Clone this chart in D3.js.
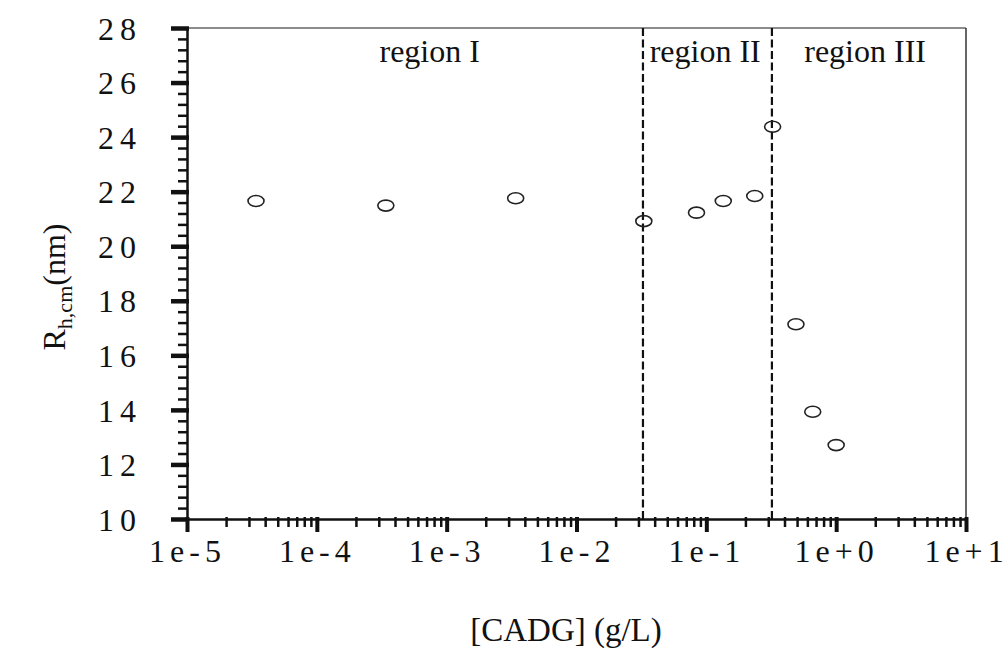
<!DOCTYPE html>
<html>
<head>
<meta charset="utf-8">
<script src="https://cdn.jsdelivr.net/npm/d3@7"></script>
<style>
  body { margin: 0; background: #fff; }
  text { font-family: "Liberation Serif", "DejaVu Serif", serif; fill: #111; }
</style>
</head>
<body>
<svg id="chart" width="1008" height="656"></svg>
<script>
/* Data */
var conc = [3.4e-5, 3.4e-4, 3.4e-3, 0.033, 0.084, 0.135, 0.236, 0.324, 0.49, 0.66, 1.0];
var rh   = [21.66, 21.49, 21.76, 20.92, 21.23, 21.66, 21.84, 24.38, 17.14, 13.93, 12.71];

var regionBounds = [0.0325, 0.32];
var regionNames = ['region I', 'region II', 'region III'];
var regionCenters = [7.4e-4, 0.098, 1.67];

var xTicks = [1e-5, 1e-4, 1e-3, 1e-2, 1e-1, 1, 10];
var xTickLabels = ['1e-5', '1e-4', '1e-3', '1e-2', '1e-1', '1e+0', '1e+1'];
var yTicks = [10, 12, 14, 16, 18, 20, 22, 24, 26, 28];

var serif = '"Liberation Serif", "DejaVu Serif", serif';
var svg = d3.select('#chart');

/* Scales */
var xScale = d3.scaleLog()
  .domain([1e-5, 10])
  .range([187, 966]);

var yScale = d3.scaleLinear()
  .domain([10, 28])
  .range([519, 28]);

/* minor ticks */
var xMinor = [];
for (let e = -5; e < 1; e++) {
  for (let k = 2; k <= 9; k++) {
    xMinor.push(k * Math.pow(10, e));
  }
}
var yMinor = d3.range(10, 28.01, 0.4).filter(function (v) {
  return Math.abs(v / 2 - Math.round(v / 2)) > 0.01;
});

/* Frame (top and right) */
svg.append('line')
  .attr('x1', xScale(1e-5)).attr('x2', xScale(10))
  .attr('y1', yScale(28)).attr('y2', yScale(28))
  .attr('stroke', '#666').attr('stroke-width', 1.5);
svg.append('line')
  .attr('x1', xScale(10)).attr('x2', xScale(10))
  .attr('y1', yScale(28)).attr('y2', yScale(10))
  .attr('stroke', '#333').attr('stroke-width', 1.5);

/* Region boundaries */
svg.selectAll('line.bound')
  .data(regionBounds)
  .join('line')
  .classed('bound', true)
  .attr('x1', function (d) { return xScale(d); })
  .attr('x2', function (d) { return xScale(d); })
  .attr('y1', yScale(28))
  .attr('y2', yScale(10))
  .attr('stroke', '#111')
  .attr('stroke-width', 2.2)
  .attr('stroke-dasharray', '8,3.5');

/* Region labels */
svg.selectAll('text.region')
  .data(regionNames)
  .join('text')
  .classed('region', true)
  .attr('x', function (d, i) { return xScale(regionCenters[i]); })
  .attr('y', 62)
  .attr('text-anchor', 'middle')
  .style('font-size', '32px')
  .text(function (d) { return d; });

/* Axes */
var yAxisMinor = d3.axisLeft(yScale).tickValues(yMinor).tickSize(9).tickFormat('');
var yAxisMajor = d3.axisLeft(yScale).tickValues(yTicks).tickSize(16)
  .tickFormat(function (d) { return String(d); });
var xAxisMinor = d3.axisBottom(xScale).tickValues(xMinor).tickSize(8).tickFormat('');
var xAxisMajor = d3.axisBottom(xScale).tickValues(xTicks).tickSize(13)
  .tickFormat(function (d, i) { return xTickLabels[i]; });

var gyMinor = svg.append('g').attr('transform', 'translate(187,0)').call(yAxisMinor);
var gyMajor = svg.append('g').attr('transform', 'translate(187,0)').call(yAxisMajor);
var gxMinor = svg.append('g').attr('transform', 'translate(0,519)').call(xAxisMinor);
var gxMajor = svg.append('g').attr('transform', 'translate(0,519)').call(xAxisMajor);

[gyMinor, gyMajor, gxMinor, gxMajor].forEach(function (g) {
  g.attr('font-family', serif);
  g.select('.domain').attr('stroke', '#111').attr('stroke-width', 2);
  g.selectAll('.tick line').attr('stroke', '#111');
});
gyMinor.selectAll('.tick line').attr('stroke-width', 2.5).attr('x1', 1);
gyMajor.selectAll('.tick line').attr('stroke-width', 4.5).attr('x1', 2);
gxMinor.selectAll('.tick line').attr('stroke-width', 2.5).attr('y1', -2);
gxMajor.selectAll('.tick line').attr('stroke-width', 4).attr('y1', -2);

gyMajor.selectAll('.tick text')
  .attr('x', -45)
  .attr('dy', '0.35em')
  .style('font-family', serif)
  .style('font-size', '32px')
  .style('letter-spacing', '6px')
  .attr('fill', '#111');

gxMajor.selectAll('.tick text')
  .attr('y', 32)
  .attr('dy', '0.35em')
  .style('font-family', serif)
  .style('font-size', '32px')
  .style('letter-spacing', '5px')
  .attr('fill', '#111');

/* Points */
svg.selectAll('ellipse.pt')
  .data(conc)
  .join('ellipse')
  .classed('pt', true)
  .attr('cx', function (d) { return xScale(d); })
  .attr('cy', function (d, i) { return yScale(rh[i]); })
  .attr('rx', 8)
  .attr('ry', 5.5)
  .attr('fill', 'none')
  .attr('stroke', '#222')
  .attr('stroke-width', 1.6);

/* Axis titles */
svg.append('text')
  .attr('x', 566)
  .attr('y', 641)
  .attr('text-anchor', 'middle')
  .style('font-size', '33px')
  .text('[CADG] (g/L)');

var yTitle = svg.append('text')
  .attr('transform', 'translate(65,287) rotate(-90)')
  .attr('text-anchor', 'middle')
  .style('font-size', '32px');
yTitle.append('tspan').text('R');
yTitle.append('tspan').attr('dy', 7).style('font-size', '22px').text('h,cm');
yTitle.append('tspan').attr('dy', -7).text('(nm)');
</script>
</body>
</html>
